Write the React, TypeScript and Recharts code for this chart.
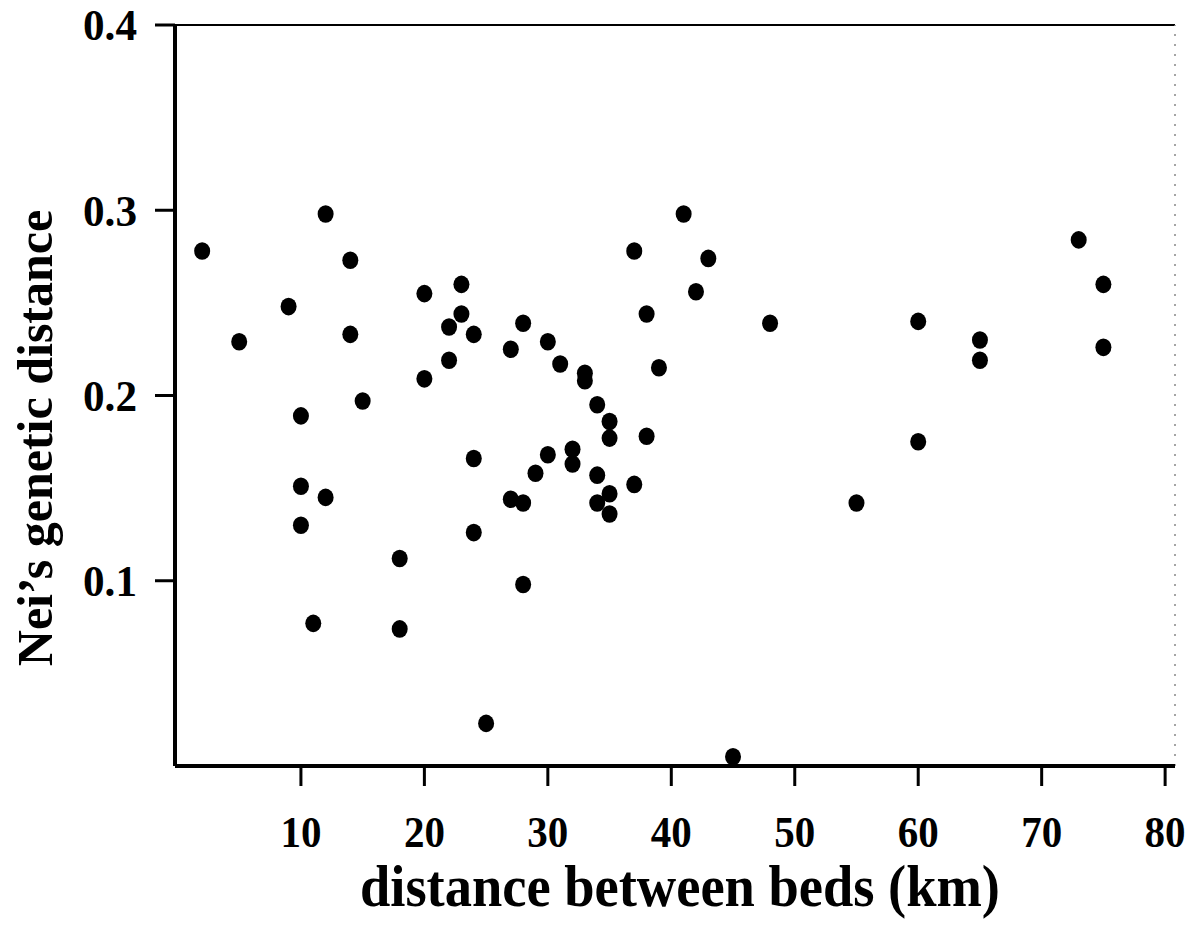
import React from 'react'
import {
  ScatterChart,
  Scatter,
  XAxis,
  YAxis,
  ReferenceLine,
  Label
} from 'recharts'

// distance between beds (km)
const bedDistance = [
  2, 5, 9, 10, 10, 10, 11, 12, 12, 14, 14, 15, 18, 18, 20, 20, 22, 22, 23, 23,
  24, 24, 24, 25, 27, 27, 28, 28, 28, 29, 30, 30, 31, 32, 32, 33, 33, 34, 34, 34,
  35, 35, 35, 35, 37, 37, 38, 38, 39, 41, 42, 43, 45, 48, 55, 60, 60, 65, 65, 73,
  75, 75
]

// Nei's genetic distance
const neiDistance = [
  0.278, 0.229, 0.248, 0.189, 0.151, 0.13, 0.077, 0.298, 0.145, 0.273, 0.233,
  0.197, 0.112, 0.074, 0.255, 0.209, 0.237, 0.219, 0.26, 0.244, 0.233, 0.166,
  0.126, 0.023, 0.225, 0.144, 0.239, 0.142, 0.098, 0.158, 0.229, 0.168, 0.217,
  0.171, 0.163, 0.212, 0.208, 0.195, 0.157, 0.142, 0.186, 0.177, 0.147, 0.136,
  0.278, 0.152, 0.244, 0.178, 0.215, 0.298, 0.256, 0.274, 0.005, 0.239, 0.142,
  0.24, 0.175, 0.23, 0.219, 0.284, 0.26, 0.226
]

const xTicks = [10, 20, 30, 40, 50, 60, 70, 80]
const yTicks = [0.1, 0.2, 0.3, 0.4]

const points = bedDistance.map((d, i) => ({ x: d, y: neiDistance[i] }))

const font = 'Liberation Serif, Times New Roman, serif'
const textStyle = { fontWeight: 700, fontFamily: font, fill: '#000' }

const XTick = (props: any) => (
  <text
    x={props.x}
    y={props.y}
    dy='0.69em'
    textAnchor='middle'
    fontSize={45}
    textLength={41}
    lengthAdjust='spacingAndGlyphs'
    style={textStyle}
  >
    {props.payload.value}
  </text>
)

const YTick = (props: any) => (
  <text
    x={props.x}
    y={props.y}
    dy='0.34em'
    textAnchor='end'
    fontSize={45}
    textLength={54}
    lengthAdjust='spacingAndGlyphs'
    style={textStyle}
  >
    {Number(props.payload.value).toFixed(1)}
  </text>
)

const Dot = (props: any) => (
  <ellipse cx={props.cx} cy={props.cy} rx={8} ry={8.8} fill='#000' />
)

const App = () => {
  return (
    <div style={{ marginTop: -8 }}>
      <ScatterChart
        width={1181}
        height={923}
        margin={{ top: 25, right: 14, bottom: 0, left: 0 }}
      >
        <XAxis
          type='number'
          dataKey='x'
          domain={[-0.2, 80.8]}
          ticks={xTicks}
          tickSize={20}
          tickMargin={30}
          height={157}
          axisLine={{ stroke: '#000', strokeWidth: 4 }}
          tickLine={{ stroke: '#000', strokeWidth: 3 }}
          tick={<XTick />}
        >
          <Label
            content={() => (
              <text
                x={672}
                y={906}
                textAnchor='middle'
                textLength={640}
                lengthAdjust='spacingAndGlyphs'
                fontSize={60}
                style={textStyle}
              >
                distance between beds (km)
              </text>
            )}
          />
        </XAxis>
        <YAxis
          type='number'
          dataKey='y'
          domain={[0, 0.4]}
          ticks={yTicks}
          tickSize={20}
          tickMargin={18}
          width={167}
          axisLine={{ stroke: '#000', strokeWidth: 4 }}
          tickLine={{ stroke: '#000', strokeWidth: 3 }}
          tick={<YTick />}
        >
          <Label
            content={() => (
              <text
                x={44}
                y={438}
                textAnchor='middle'
                transform='rotate(-90 44 438)'
                fontSize={50}
                style={textStyle}
              >
                Nei’s genetic distance
              </text>
            )}
          />
        </YAxis>
        <ReferenceLine y={0.4} stroke='#000' strokeWidth={2} />
        <ReferenceLine x={80.8} stroke='#888' strokeWidth={1.5} strokeDasharray='2 8' />
        <Scatter
          data={points}
          fill='#000'
          shape={Dot}
          isAnimationActive={false}
        />
      </ScatterChart>
    </div>
  )
}

export default App
